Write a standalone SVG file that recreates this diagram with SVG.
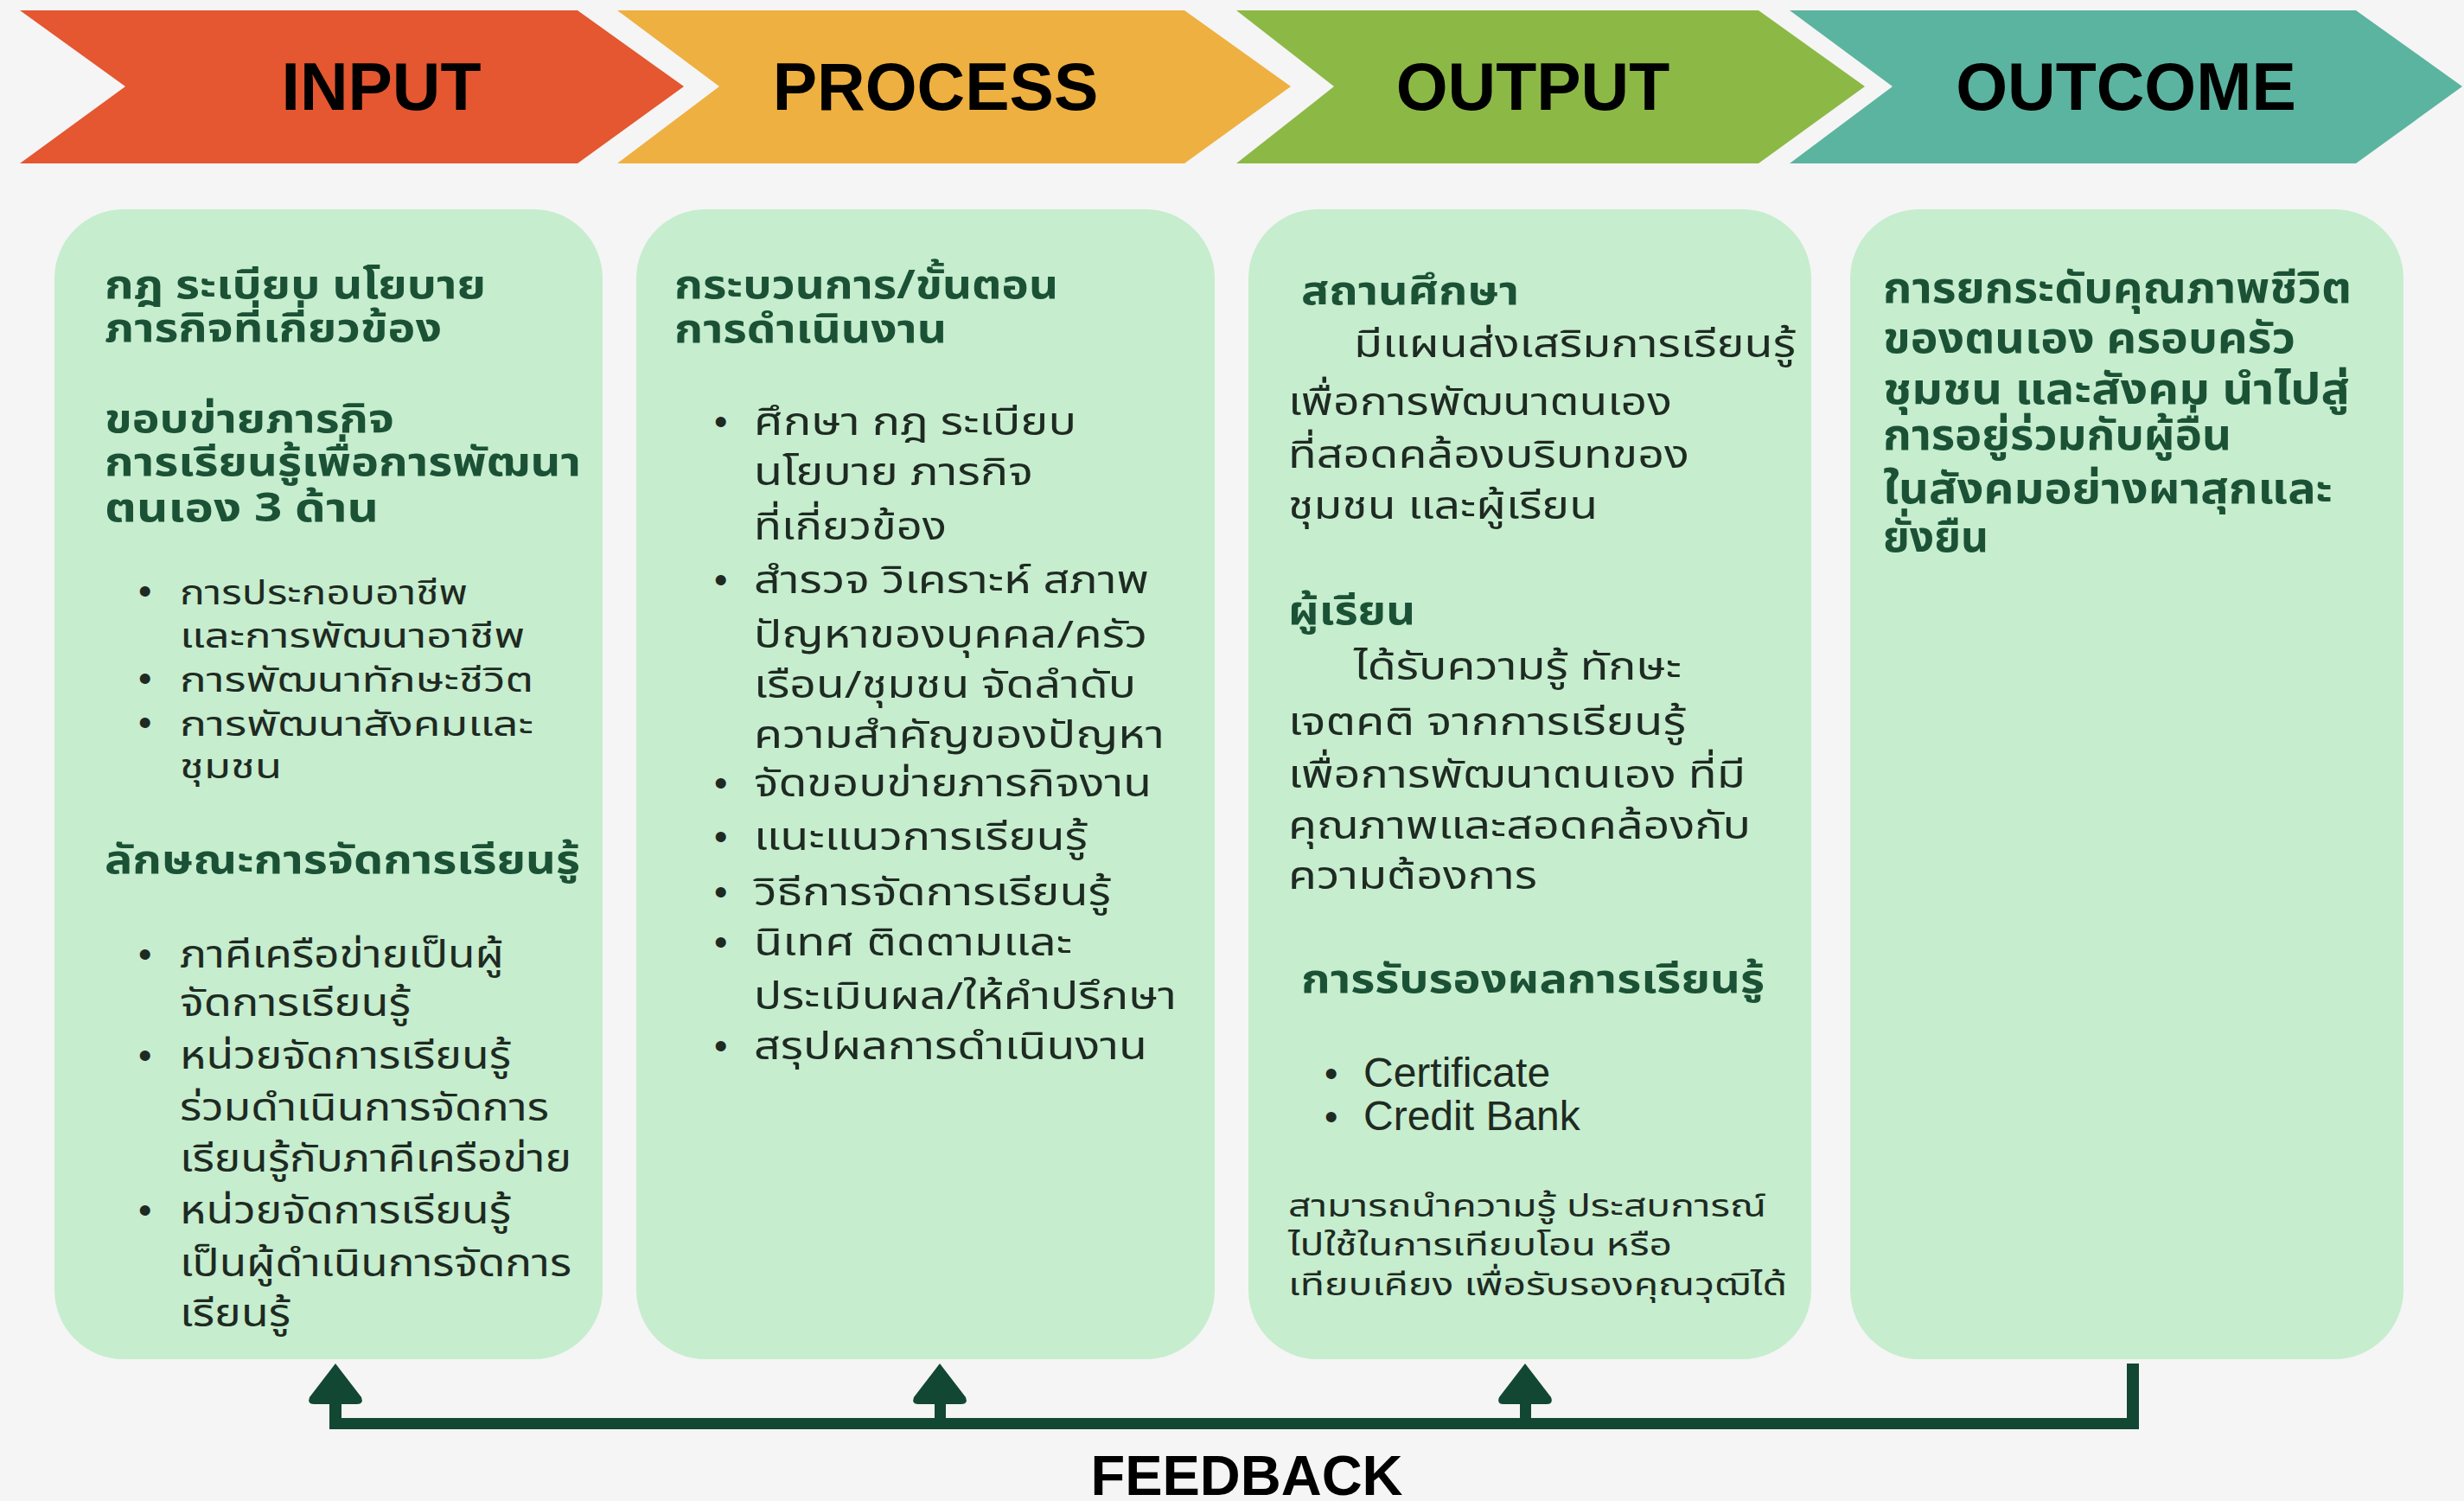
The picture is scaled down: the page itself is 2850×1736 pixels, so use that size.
<svg xmlns="http://www.w3.org/2000/svg" width="2850" height="1736" viewBox="0 0 2850 1736">
<style>
.t{font-family:"Noto Sans Thai","Noto Sans Thai UI","Noto Sans Thai Looped","Sarabun","Kanit","Loma","Garuda","Tlwg Typo","Noto Sans","DejaVu Sans",sans-serif}
.h{font-weight:700;fill:#1B5236;font-size:46px}
.b{font-weight:400;fill:#1E2A22;font-size:44px}
.s{font-size:40px}
.p{font-size:36px}
.o{font-weight:700;fill:#1B5236;font-size:50px}
.dot{font-family:"Liberation Sans",Arial,sans-serif;font-size:44px;fill:#1E2A22}
.lat{font-family:"Liberation Sans",Arial,sans-serif;font-size:48px;fill:#1E2A22}
.title{font-family:"Liberation Sans",Arial,sans-serif;font-weight:700;font-size:77px;fill:#000;text-anchor:middle}
.card{fill:#C6EDCE}
.fb{fill:#124733}
</style>
<rect x="0" y="0" width="2850" height="1736" fill="#F5F5F5"/>

<g id="stage-input">
<path d="M23,12 L668,12 L791,100 L668,189 L23,189 L145,100 Z" fill="#E45730"/>
<text class="title" x="441" y="127">INPUT</text>
</g>
<g id="stage-process">
<path d="M714,12 L1370,12 L1493,100 L1370,189 L714,189 L832,100 Z" fill="#EEB040"/>
<text class="title" x="1082" y="127">PROCESS</text>
</g>
<g id="stage-output">
<path d="M1430,12 L2034,12 L2157,100 L2034,189 L1430,189 L1543,100 Z" fill="#8CB946"/>
<text class="title" x="1773" y="127">OUTPUT</text>
</g>
<g id="stage-outcome">
<path d="M2070,12 L2725,12 L2848,100 L2725,189 L2070,189 L2189,100 Z" fill="#5BB4A0"/>
<text class="title" x="2459" y="127">OUTCOME</text>
</g>

<g id="card-input">
<rect class="card" x="63" y="242" width="634" height="1330" rx="80"/>
<text class="t h" x="121" y="345" textLength="441" lengthAdjust="spacingAndGlyphs">กฎ ระเบียบ นโยบาย</text>
<text class="t h" x="121" y="395" textLength="390" lengthAdjust="spacingAndGlyphs">ภารกิจที่เกี่ยวข้อง</text>
<text class="t h" x="121" y="500" textLength="335" lengthAdjust="spacingAndGlyphs">ขอบข่ายภารกิจ</text>
<text class="t h" x="121" y="550" textLength="551" lengthAdjust="spacingAndGlyphs">การเรียนรู้เพื่อการพัฒนา</text>
<text class="t h" x="121" y="603" textLength="317" lengthAdjust="spacingAndGlyphs">ตนเอง 3  ด้าน</text>
<text class="dot" x="160" y="699">•</text>
<text class="t b s" x="208" y="699" textLength="333" lengthAdjust="spacingAndGlyphs">การประกอบอาชีพ</text>
<text class="t b s" x="208" y="749" textLength="399" lengthAdjust="spacingAndGlyphs">และการพัฒนาอาชีพ</text>
<text class="dot" x="160" y="800">•</text>
<text class="t b s" x="208" y="800" textLength="409" lengthAdjust="spacingAndGlyphs">การพัฒนาทักษะชีวิต</text>
<text class="dot" x="160" y="851">•</text>
<text class="t b s" x="208" y="851" textLength="409" lengthAdjust="spacingAndGlyphs">การพัฒนาสังคมและ</text>
<text class="t b s" x="208" y="900" textLength="118" lengthAdjust="spacingAndGlyphs">ชุมชน</text>
<text class="t h" x="121" y="1010" textLength="550" lengthAdjust="spacingAndGlyphs">ลักษณะการจัดการเรียนรู้</text>
<text class="dot" x="160" y="1119">•</text>
<text class="t b" x="208" y="1119" textLength="375" lengthAdjust="spacingAndGlyphs">ภาคีเครือข่ายเป็นผู้</text>
<text class="t b" x="208" y="1175" textLength="267" lengthAdjust="spacingAndGlyphs">จัดการเรียนรู้</text>
<text class="dot" x="160" y="1236">•</text>
<text class="t b" x="208" y="1236" textLength="383" lengthAdjust="spacingAndGlyphs">หน่วยจัดการเรียนรู้</text>
<text class="t b" x="208" y="1296" textLength="427" lengthAdjust="spacingAndGlyphs">ร่วมดำเนินการจัดการ</text>
<text class="t b" x="208" y="1355" textLength="453" lengthAdjust="spacingAndGlyphs">เรียนรู้กับภาคีเครือข่าย</text>
<text class="dot" x="160" y="1415">•</text>
<text class="t b" x="208" y="1415" textLength="383" lengthAdjust="spacingAndGlyphs">หน่วยจัดการเรียนรู้</text>
<text class="t b" x="208" y="1476" textLength="453" lengthAdjust="spacingAndGlyphs">เป็นผู้ดำเนินการจัดการ</text>
<text class="t b" x="208" y="1534" textLength="128" lengthAdjust="spacingAndGlyphs">เรียนรู้</text>
</g>

<g id="card-process">
<rect class="card" x="736" y="242" width="669" height="1330" rx="80"/>
<text class="t h" x="780" y="345" textLength="444" lengthAdjust="spacingAndGlyphs">กระบวนการ/ขั้นตอน</text>
<text class="t h" x="780" y="396" textLength="315" lengthAdjust="spacingAndGlyphs">การดำเนินงาน</text>
<text class="dot" x="826" y="503">•</text>
<text class="t b" x="872" y="503" textLength="373" lengthAdjust="spacingAndGlyphs">ศึกษา กฎ ระเบียบ</text>
<text class="t b" x="872" y="561" textLength="323" lengthAdjust="spacingAndGlyphs">นโยบาย ภารกิจ</text>
<text class="t b" x="872" y="624" textLength="223" lengthAdjust="spacingAndGlyphs">ที่เกี่ยวข้อง</text>
<text class="dot" x="826" y="686">•</text>
<text class="t b" x="872" y="686" textLength="457" lengthAdjust="spacingAndGlyphs">สำรวจ วิเคราะห์ สภาพ</text>
<text class="t b" x="872" y="749" textLength="455" lengthAdjust="spacingAndGlyphs">ปัญหาของบุคคล/ครัว</text>
<text class="t b" x="872" y="807" textLength="442" lengthAdjust="spacingAndGlyphs">เรือน/ชุมชน จัดลำดับ</text>
<text class="t b" x="872" y="865" textLength="475" lengthAdjust="spacingAndGlyphs">ความสำคัญของปัญหา</text>
<text class="dot" x="826" y="921">•</text>
<text class="t b" x="872" y="921" textLength="460" lengthAdjust="spacingAndGlyphs">จัดขอบข่ายภารกิจงาน</text>
<text class="dot" x="826" y="983">•</text>
<text class="t b" x="872" y="983" textLength="386" lengthAdjust="spacingAndGlyphs">แนะแนวการเรียนรู้</text>
<text class="dot" x="826" y="1047">•</text>
<text class="t b" x="872" y="1047" textLength="413" lengthAdjust="spacingAndGlyphs">วิธีการจัดการเรียนรู้</text>
<text class="dot" x="826" y="1105">•</text>
<text class="t b" x="872" y="1105" textLength="368" lengthAdjust="spacingAndGlyphs">นิเทศ ติดตามและ</text>
<text class="t b" x="872" y="1167" textLength="489" lengthAdjust="spacingAndGlyphs">ประเมินผล/ให้คำปรึกษา</text>
<text class="dot" x="826" y="1225">•</text>
<text class="t b" x="872" y="1225" textLength="455" lengthAdjust="spacingAndGlyphs">สรุปผลการดำเนินงาน</text>
</g>

<g id="card-output">
<rect class="card" x="1444" y="242" width="651" height="1330" rx="80"/>
<text class="t h" x="1505" y="352" textLength="252" lengthAdjust="spacingAndGlyphs">สถานศึกษา</text>
<text class="t b" x="1566" y="413" textLength="511" lengthAdjust="spacingAndGlyphs">มีแผนส่งเสริมการเรียนรู้</text>
<text class="t b" x="1490" y="480" textLength="444" lengthAdjust="spacingAndGlyphs">เพื่อการพัฒนาตนเอง</text>
<text class="t b" x="1490" y="541" textLength="464" lengthAdjust="spacingAndGlyphs">ที่สอดคล้องบริบทของ</text>
<text class="t b" x="1490" y="600" textLength="358" lengthAdjust="spacingAndGlyphs">ชุมชน และผู้เรียน</text>
<text class="t h" x="1490" y="722" textLength="147" lengthAdjust="spacingAndGlyphs">ผู้เรียน</text>
<text class="t b" x="1566" y="786" textLength="379" lengthAdjust="spacingAndGlyphs">ได้รับความรู้ ทักษะ</text>
<text class="t b" x="1490" y="850" textLength="460" lengthAdjust="spacingAndGlyphs">เจตคติ จากการเรียนรู้</text>
<text class="t b" x="1490" y="911" textLength="529" lengthAdjust="spacingAndGlyphs">เพื่อการพัฒนาตนเอง ที่มี</text>
<text class="t b" x="1490" y="970" textLength="535" lengthAdjust="spacingAndGlyphs">คุณภาพและสอดคล้องกับ</text>
<text class="t b" x="1490" y="1028" textLength="288" lengthAdjust="spacingAndGlyphs">ความต้องการ</text>
<text class="t h" x="1505" y="1148" textLength="536" lengthAdjust="spacingAndGlyphs">การรับรองผลการเรียนรู้</text>
<text class="dot" x="1532" y="1257">•</text>
<text class="lat" x="1577" y="1257">Certificate</text>
<text class="dot" x="1532" y="1307">•</text>
<text class="lat" x="1577" y="1307">Credit Bank</text>
<text class="t b p" x="1490" y="1407" textLength="553" lengthAdjust="spacingAndGlyphs">สามารถนำความรู้ ประสบการณ์</text>
<text class="t b p" x="1490" y="1452" textLength="444" lengthAdjust="spacingAndGlyphs">ไปใช้ในการเทียบโอน หรือ</text>
<text class="t b p" x="1490" y="1498" textLength="577" lengthAdjust="spacingAndGlyphs">เทียบเคียง เพื่อรับรองคุณวุฒิได้</text>
</g>

<g id="card-outcome">
<rect class="card" x="2140" y="242" width="640" height="1330" rx="80"/>
<text class="t o" x="2178" y="350" textLength="542" lengthAdjust="spacingAndGlyphs">การยกระดับคุณภาพชีวิต</text>
<text class="t o" x="2178" y="408" textLength="477" lengthAdjust="spacingAndGlyphs">ของตนเอง ครอบครัว</text>
<text class="t o" x="2178" y="467" textLength="540" lengthAdjust="spacingAndGlyphs">ชุมชน และสังคม นำไปสู่</text>
<text class="t o" x="2178" y="520" textLength="403" lengthAdjust="spacingAndGlyphs">การอยู่ร่วมกับผู้อื่น</text>
<text class="t o" x="2178" y="582" textLength="520" lengthAdjust="spacingAndGlyphs">ในสังคมอย่างผาสุกและ</text>
<text class="t o" x="2178" y="638" textLength="122" lengthAdjust="spacingAndGlyphs">ยั่งยืน</text>
</g>

<g id="connectors">
<rect class="fb" x="381" y="1640" width="2093" height="13"/>
<rect class="fb" x="2460" y="1577" width="14" height="76"/>
<rect class="fb" x="381" y="1615" width="14" height="38"/>
<rect class="fb" x="1081" y="1615" width="13" height="30"/>
<rect class="fb" x="1758" y="1615" width="13" height="30"/>
<path class="fb" d="M388,1577 L418,1616 Q421,1624 413,1624 L363,1624 Q355,1624 358,1616 Z"/>
<path class="fb" d="M1087,1577 L1117,1616 Q1120,1624 1112,1624 L1062,1624 Q1054,1624 1057,1616 Z"/>
<path class="fb" d="M1764,1577 L1794,1616 Q1797,1624 1789,1624 L1739,1624 Q1731,1624 1734,1616 Z"/>
</g>
<text id="feedback-label" class="title" x="1442" y="1729" style="font-size:65px">FEEDBACK</text>
</svg>
